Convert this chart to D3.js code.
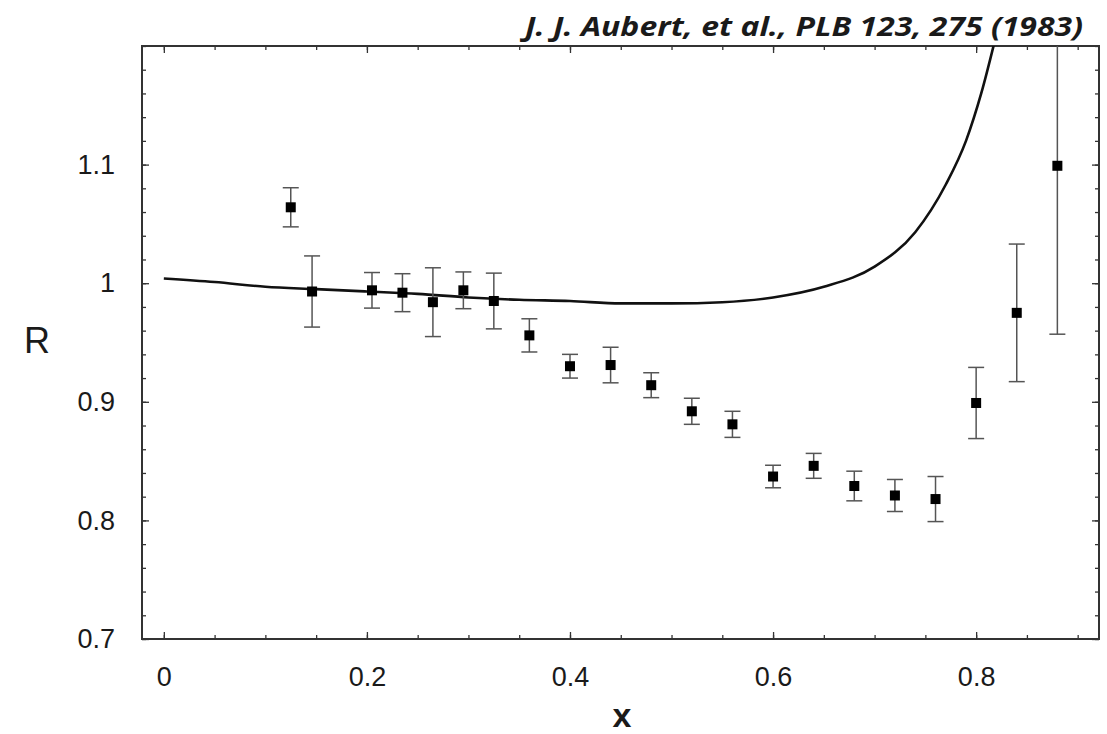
<!DOCTYPE html>
<html>
<head>
<meta charset="utf-8">
<script src="https://cdn.jsdelivr.net/npm/d3@7"></script>
<style>
  body { margin: 0; background: #fff; }
  svg { display: block; }
  .tick text { font-family: "Liberation Sans", Arial, sans-serif; font-size: 27px; fill: #1a1a1a; }
  .tick line { stroke: #333; stroke-width: 1.3; }
  .axis path.domain { display: none; }
</style>
</head>
<body>
<svg width="1107" height="734"></svg>
<script>
// measured points: x, ratio R and its (symmetric) error
var xVals = [0.125, 0.146, 0.205, 0.235, 0.265, 0.295, 0.325, 0.36, 0.40, 0.44, 0.48,
             0.52, 0.56, 0.60, 0.64, 0.68, 0.72, 0.76, 0.80, 0.84, 0.88];
var rVals = [1.064, 0.993, 0.994, 0.992, 0.984, 0.994, 0.985, 0.956, 0.930, 0.931, 0.914,
             0.892, 0.881, 0.837, 0.846, 0.829, 0.821, 0.818, 0.899, 0.975, 1.099];
var rErr  = [0.0165, 0.030, 0.015, 0.016, 0.029, 0.0155, 0.0235, 0.014, 0.010, 0.015, 0.0105,
             0.011, 0.011, 0.0095, 0.0105, 0.0125, 0.0135, 0.019, 0.030, 0.058, 0.142];

// theory curve
var curveX = [0, 0.05, 0.1, 0.15, 0.2, 0.25, 0.3, 0.35, 0.4, 0.45, 0.5, 0.55, 0.6, 0.65,
              0.7, 0.74, 0.77, 0.79, 0.805, 0.82];
var curveR = [1.004, 1.001, 0.997, 0.995, 0.993, 0.991, 0.988, 0.986, 0.985, 0.983, 0.983,
              0.984, 0.988, 0.997, 1.014, 1.043, 1.083, 1.12, 1.16, 1.21];

var xTicks = [0, 0.2, 0.4, 0.6, 0.8];
var yTicks = [0.7, 0.8, 0.9, 1, 1.1];
var xMinor = d3.range(0, 0.92, 0.05);
var yMinor = d3.range(0.7, 1.2001, 0.02);

var data = xVals.map((x, i) => ({x: x, r: rVals[i], e: rErr[i]}));
var curve = curveX.map((x, i) => ({x: x, r: curveR[i]}));

var svg = d3.select("svg"),
    margin = {top: 46, right: 8, bottom: 95, left: 142},
    width = +svg.attr("width") - margin.left - margin.right,
    height = +svg.attr("height") - margin.top - margin.bottom,
    g = svg.append("g").attr("transform", "translate(" + margin.left + "," + margin.top + ")");

var x = d3.scaleLinear().domain([-0.0215, 0.921]).range([0, width]);
var y = d3.scaleLinear().domain([0.7, 1.2]).range([height, 0]);

g.append("defs").append("clipPath").attr("id", "plot")
  .append("rect").attr("width", width).attr("height", height);

// minor ticks on all four sides
g.append("g").attr("class", "axis").attr("transform", "translate(0," + height + ")")
  .call(d3.axisBottom(x).tickValues(xMinor).tickSizeInner(-4).tickSizeOuter(0).tickFormat(""));
g.append("g").attr("class", "axis")
  .call(d3.axisTop(x).tickValues(xMinor).tickSizeInner(-4).tickSizeOuter(0).tickFormat(""));
g.append("g").attr("class", "axis")
  .call(d3.axisLeft(y).tickValues(yMinor).tickSizeInner(-4).tickSizeOuter(0).tickFormat(""));
g.append("g").attr("class", "axis").attr("transform", "translate(" + width + ",0)")
  .call(d3.axisRight(y).tickValues(yMinor).tickSizeInner(-4).tickSizeOuter(0).tickFormat(""));

// major ticks
g.append("g").attr("class", "axis").attr("transform", "translate(0," + height + ")")
  .call(d3.axisBottom(x).tickValues(xTicks).tickSizeInner(-7).tickSizeOuter(0).tickPadding(28)
    .tickFormat(d => d === 0 ? "0" : d3.format(".1f")(d)));
g.append("g").attr("class", "axis")
  .call(d3.axisTop(x).tickValues(xTicks).tickSizeInner(-7).tickSizeOuter(0).tickFormat(""));
g.append("g").attr("class", "axis")
  .call(d3.axisLeft(y).tickValues(yTicks).tickSizeInner(-7).tickSizeOuter(0).tickPadding(27)
    .tickFormat(d => d === 1 ? "1" : d3.format(".1f")(d)));
g.append("g").attr("class", "axis").attr("transform", "translate(" + width + ",0)")
  .call(d3.axisRight(y).tickValues(yTicks).tickSizeInner(-7).tickSizeOuter(0).tickFormat(""));

// frame
g.append("rect").attr("width", width).attr("height", height)
  .attr("fill", "none").attr("stroke", "#333").attr("stroke-width", 2);

var plot = g.append("g").attr("clip-path", "url(#plot)");

var line = d3.line().curve(d3.curveMonotoneX)
  .x(d => x(d.x)).y(d => y(d.r));

plot.append("path").datum(curve)
  .attr("fill", "none").attr("stroke", "#111").attr("stroke-width", 2.6)
  .attr("d", line);

// error bars
var eb = plot.selectAll(".err").data(data).enter().append("g")
  .attr("stroke", "#555").attr("stroke-width", 1.5);
eb.append("line")
  .attr("x1", d => x(d.x)).attr("x2", d => x(d.x))
  .attr("y1", d => y(d.r - d.e)).attr("y2", d => y(d.r + d.e));
eb.append("line")
  .attr("x1", d => x(d.x) - 8).attr("x2", d => x(d.x) + 8)
  .attr("y1", d => y(d.r - d.e)).attr("y2", d => y(d.r - d.e));
eb.append("line")
  .attr("x1", d => x(d.x) - 8).attr("x2", d => x(d.x) + 8)
  .attr("y1", d => y(d.r + d.e)).attr("y2", d => y(d.r + d.e));

plot.selectAll(".pt").data(data).enter().append("rect")
  .attr("x", d => x(d.x) - 5).attr("y", d => y(d.r) - 5)
  .attr("width", 10).attr("height", 10).attr("fill", "#000");

// labels
svg.append("text")
  .attr("x", 37).attr("y", 353)
  .attr("text-anchor", "middle")
  .style("font-family", "Liberation Sans, Arial, sans-serif")
  .style("font-size", "36px").attr("fill", "#1a1a1a")
  .text("R");

svg.append("text")
  .attr("x", 622).attr("y", 727)
  .attr("text-anchor", "middle")
  .style("font-family", "Liberation Sans, Arial, sans-serif")
  .style("font-size", "34px").style("font-weight", "bold").attr("fill", "#1a1a1a")
  .text("x");

svg.append("text")
  .attr("x", 525).attr("y", 36)
  .attr("textLength", 558).attr("lengthAdjust", "spacingAndGlyphs")
  .style("font-family", "Open Sans, sans-serif")
  .style("font-size", "27px").style("font-weight", "bold").style("font-style", "italic")
  .attr("fill", "#1a1a1a")
  .text("J. J. Aubert, et al., PLB 123, 275 (1983)");
</script>
</body>
</html>
